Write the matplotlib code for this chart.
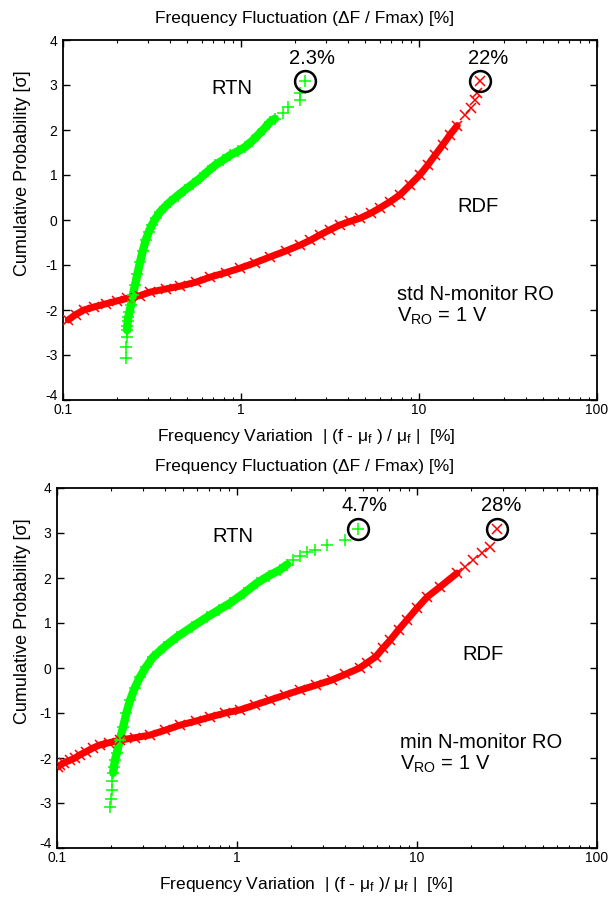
import matplotlib
matplotlib.use("Agg")
import matplotlib.pyplot as plt
from matplotlib.ticker import LogLocator, NullFormatter, FixedLocator
from matplotlib.transforms import ScaledTranslation

plt.rcParams['font.family'] = ['Liberation Sans', 'DejaVu Sans']
plt.rcParams['mathtext.fontset'] = 'custom'
plt.rcParams['mathtext.rm'] = 'Liberation Sans'
plt.rcParams['mathtext.it'] = 'Liberation Sans'

# ---- data: |(f - mu_f)/mu_f| [%] versus cumulative probability [sigma] ----
# standard N-monitor ring oscillator
std_rtn_x = [0.226, 0.227, 0.228, 0.229, 0.230, 0.231, 0.233, 0.236, 0.241, 0.247,
             0.254, 0.262, 0.271, 0.281, 0.292, 0.303, 0.316, 0.332, 0.351, 0.373,
             0.399, 0.440, 0.484, 0.535, 0.589, 0.650, 0.715, 0.790, 0.868, 0.960,
             1.053, 1.150, 1.246, 1.350, 1.455, 1.550, 1.720, 1.837, 2.145, 2.145,
             2.290]
std_rtn_s = [-3.07, -2.82, -2.60, -2.45, -2.35, -2.25, -2.15, -2.05, -1.89, -1.66,
             -1.44, -1.20, -0.93, -0.68, -0.44, -0.27, -0.11, 0.04, 0.18, 0.29,
             0.40, 0.54, 0.67, 0.80, 0.93, 1.08, 1.22, 1.33, 1.44, 1.53,
             1.62, 1.75, 1.89, 2.03, 2.18, 2.25, 2.38, 2.51, 2.67, 2.82,
             3.09]
std_rdf_x = [0.107, 0.118, 0.131, 0.150, 0.175, 0.200, 0.230, 0.270, 0.310, 0.380,
             0.454, 0.560, 0.670, 0.820, 0.987, 1.200, 1.455, 1.780, 2.140, 2.450,
             2.780, 3.150, 3.600, 4.100, 4.660, 5.350, 6.040, 6.900, 7.820, 8.900,
             10.10, 11.20, 12.30, 13.60, 14.90, 16.40, 18.10, 19.50, 20.60, 21.20,
             22.00]
std_rdf_s = [-2.22, -2.10, -2.00, -1.93, -1.86, -1.80, -1.74, -1.68, -1.60, -1.53,
             -1.47, -1.38, -1.27, -1.17, -1.07, -0.95, -0.82, -0.69, -0.56, -0.45,
             -0.33, -0.22, -0.11, -0.03, 0.04, 0.15, 0.27, 0.41, 0.56, 0.78,
             1.00, 1.22, 1.44, 1.67, 1.89, 2.10, 2.33, 2.50, 2.67, 2.82,
             3.09]

# minimum N-monitor ring oscillator
min_rtn_x = [0.197, 0.199, 0.201, 0.203, 0.205, 0.207, 0.210, 0.215, 0.223, 0.233,
             0.243, 0.255, 0.270, 0.289, 0.312, 0.341, 0.395, 0.464, 0.560, 0.681,
             0.790, 0.914, 1.090, 1.290, 1.500, 1.730, 1.900, 2.050, 2.250, 2.450,
             2.710, 3.160, 3.980, 4.700]
min_rtn_s = [-3.09, -2.90, -2.71, -2.52, -2.33, -2.20, -2.05, -1.89, -1.60, -1.31,
             -1.00, -0.71, -0.45, -0.20, 0.02, 0.24, 0.47, 0.69, 0.91, 1.13,
             1.29, 1.44, 1.66, 1.89, 2.05, 2.18, 2.30, 2.40, 2.50, 2.58,
             2.62, 2.73, 2.84, 3.09]
min_rdf_x = [0.101, 0.104, 0.110, 0.118, 0.126, 0.134, 0.145, 0.158, 0.173, 0.195,
             0.224, 0.270, 0.329, 0.400, 0.482, 0.590, 0.708, 0.860, 1.040, 1.260,
             1.530, 1.850, 2.240, 2.750, 3.350, 4.000, 4.800, 5.300, 5.900, 6.500,
             7.100, 7.900, 8.800, 10.00, 11.40, 13.40, 16.70, 18.50, 20.50, 23.00,
             25.50, 28.00]
min_rdf_s = [-2.20, -2.16, -2.10, -2.05, -2.00, -1.93, -1.86, -1.78, -1.71, -1.66,
             -1.60, -1.55, -1.49, -1.38, -1.27, -1.18, -1.09, -1.00, -0.93, -0.82,
             -0.71, -0.60, -0.49, -0.38, -0.27, -0.14, 0.00, 0.12, 0.25, 0.45,
             0.62, 0.85, 1.07, 1.33, 1.58, 1.80, 2.11, 2.25, 2.40, 2.55,
             2.69, 3.09]

panels = [
    dict(rtn=(std_rtn_x, std_rtn_s), rdf=(std_rdf_x, std_rdf_s),
         rtn_max="2.3%", rdf_max="22%", name="std N-monitor RO",
         rtn_lbl_x=0.89, rdf_lbl_x=21.4, rtn_pct_x=2.5, rdf_pct_x=24.5,
         note_x=7.5),
    dict(rtn=(min_rtn_x, min_rtn_s), rdf=(min_rdf_x, min_rdf_s),
         rtn_max="4.7%", rdf_max="28%", name="min N-monitor RO",
         rtn_lbl_x=0.95, rdf_lbl_x=23.3, rtn_pct_x=5.1, rdf_pct_x=29.5,
         note_x=8.0),
]

W, H = 609, 899
fig = plt.figure(figsize=(W / 100, H / 100), dpi=100)

# axes rectangles in pixels: left, top, right, bottom
rects = [(63, 40, 597, 400), (57, 488, 597, 848)]
title_y = [18, 466]
xlabel_y = [437, 885]
xlabels = [r"Frequency Variation  | (f - μ$_\mathregular{f}$ ) / μ$_\mathregular{f}$ |  [%]",
           r"Frequency Variation  | (f - μ$_\mathregular{f}$ )/ μ$_\mathregular{f}$ |  [%]"]

GREEN = "#00ff00"
RED = "#ff0000"
# sigma range where the samples crowd into a solid band
band = dict(rtn=(-2.5, 2.3), rdf=(-2.25, 2.2))

for i, p in enumerate(panels):
    l, t, r, b = rects[i]
    ax = fig.add_axes([l / W, 1 - b / H, (r - l) / W, (b - t) / H])
    ax.set_xscale('log')
    ax.set_xlim(0.1, 100)
    ax.set_ylim(-4, 4)

    for key, col, mk, ms, lw in (("rdf", RED, "x", 6.5, 5.0), ("rtn", GREEN, "+", 8, 6.0)):
        xs, ss = p[key]
        lo, hi = band[key]
        cx = [x for x, s in zip(xs, ss) if lo <= s <= hi]
        cs = [s for s in ss if lo <= s <= hi]
        ax.plot(cx, cs, '-', color=col, lw=lw, solid_capstyle='round',
                solid_joinstyle='round', zorder=2)
        ax.plot(xs, ss, mk, color=col, ms=ms, mew=1.1, zorder=3)
        ax.plot([xs[-1]], [ss[-1]], 'o', ms=15, mfc='none', mec='black', mew=1.8, zorder=4)

    ax.text(p["rtn_pct_x"], 3.6, p["rtn_max"], fontsize=14.5, ha='center', va='center')
    ax.text(p["rdf_pct_x"], 3.6, p["rdf_max"], fontsize=14.5, ha='center', va='center')
    ax.text(p["rtn_lbl_x"], 2.92, "RTN", fontsize=14.5, ha='center', va='center')
    ax.text(p["rdf_lbl_x"], 0.29, "RDF", fontsize=14.5, ha='center', va='center')
    ax.text(p["note_x"], -1.65, p["name"], fontsize=14.5, ha='left', va='center')
    ax.text(p["note_x"], -2.15, r"V$_\mathregular{RO}$ = 1 V", fontsize=14.5,
            ha='left', va='center')

    ax.yaxis.set_major_locator(FixedLocator([-4, -3, -2, -1, 0, 1, 2, 3, 4]))
    ax.set_yticklabels(["-4", "-3", "-2", "-1", "0", "1", "2", "3", "4"])
    ax.xaxis.set_major_locator(FixedLocator([0.1, 1, 10, 100]))
    ax.set_xticklabels(["0.1", "1", "10", "100"])
    ax.xaxis.set_minor_locator(LogLocator(base=10, subs=range(2, 10)))
    ax.xaxis.set_minor_formatter(NullFormatter())
    ax.tick_params(which='both', direction='in', top=True, right=True, labelsize=10)
    ax.tick_params(axis='y', which='major', length=5, width=1, pad=4)
    ax.tick_params(axis='x', which='major', length=5, width=1, pad=2)
    ax.tick_params(axis='x', which='minor', length=2.5, width=0.8)
    for sp in ax.spines.values():
        sp.set_linewidth(1.3)
    # lift the lowest y label clear of the "0.1" label
    lab = ax.get_yticklabels()[0]
    lab.set_transform(lab.get_transform() + ScaledTranslation(0, 4 / 72, fig.dpi_scale_trans))

    ax.set_ylabel("Cumulative Probability [σ]", fontsize=13)
    ax.yaxis.set_label_coords((31 - l) / (r - l), (b - (t + 133)) / (b - t))

    fig.text(0.5, 1 - title_y[i] / H, "Frequency Fluctuation (ΔF / Fmax) [%]",
             fontsize=12.5, ha='center', va='center')
    fig.text(306 / W, 1 - xlabel_y[i] / H, xlabels[i], fontsize=12.5,
             ha='center', va='center')

fig.savefig("out.png", dpi=100)
